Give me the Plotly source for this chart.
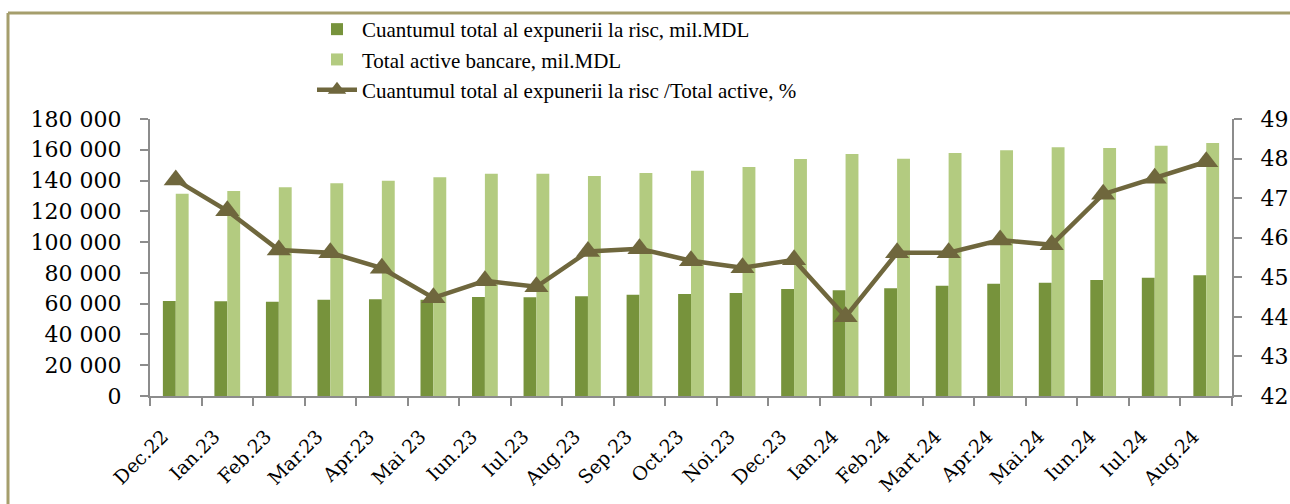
import plotly.graph_objects as go

categories = ["Dec.22", "Ian.23", "Feb.23", "Mar.23", "Apr.23", "Mai 23", "Iun.23", "Iul.23",
              "Aug.23", "Sep.23", "Oct.23", "Noi.23", "Dec.23", "Ian.24", "Feb.24", "Mart.24",
              "Apr.24", "Mai.24", "Iun.24", "Iul.24", "Aug.24"]
expunere = [61700, 61500, 61300, 62600, 62800, 62600, 64300, 64100, 64800, 65800, 66300,
            66900, 69500, 68700, 70000, 71700, 73000, 73600, 75400, 76900, 78400]
active = [131500, 133200, 135600, 138200, 139900, 142100, 144500, 144500, 143000, 144900, 146400,
          148800, 154000, 157300, 154200, 157900, 159700, 161600, 161200, 162600, 164400]
raport = [47.46, 46.68, 45.69, 45.62, 45.23, 44.48, 44.91, 44.76, 45.65, 45.72, 45.42,
          45.24, 45.44, 44.00, 45.62, 45.62, 45.94, 45.82, 47.10, 47.50, 47.92]
left_ticks = list(range(0, 180001, 20000))
left_labels = [f"{v:,}".replace(",", " ") for v in left_ticks]
right_ticks = list(range(42, 50))

name1 = "Cuantumul total al expunerii la risc, mil.MDL"
name2 = "Total active bancare, mil.MDL"
name3 = "Cuantumul total al expunerii la risc /Total active, %"

DARK = "#77933C"
LIGHT = "#B3CB80"
LINEC = "#6F673D"
AXC = "#8C8C8C"
BORDER = "#A59E6C"

W, H = 1290, 504
L, R, T, B = 150, 58, 119, 108
PW, PH = W - L - R, H - T - B

def px_x(p):
    return (p - L) / PW

def px_y(p):
    return (H - B - p) / PH

fig = go.Figure()
fig.add_trace(go.Bar(x=categories, y=expunere, name=name1, marker_color=DARK,
                     marker_line_width=0, yaxis="y"))
fig.add_trace(go.Bar(x=categories, y=active, name=name2, marker_color=LIGHT,
                     marker_line_width=0, yaxis="y"))
fig.add_trace(go.Scatter(x=categories, y=raport, name=name3, mode="lines+markers",
                         line=dict(color=LINEC, width=4.5),
                         marker=dict(symbol="triangle-up", size=21, color=LINEC),
                         yaxis="y2"))

tickfont = dict(family="DejaVu Serif", size=22, color="black")
n = len(categories)
boundaries = [i - 0.5 for i in range(n + 1)]

fig.update_layout(
    width=W, height=H,
    margin=dict(l=L, r=R, t=T, b=B, autoexpand=False),
    paper_bgcolor="white", plot_bgcolor="white",
    barmode="group", bargap=0.5, bargroupgap=0,
    showlegend=True,
    legend=dict(x=px_x(312), y=px_y(9), xanchor="left", yanchor="top",
                font=dict(family="Liberation Serif", size=21, color="black"),
                bgcolor="rgba(0,0,0,0)", tracegroupgap=0, itemwidth=40,
                traceorder="normal"),
    xaxis=dict(type="category", range=[-0.5, n - 0.5], tickson="boundaries",
               ticks="outside", ticklen=8, tickwidth=2, tickcolor=AXC,
               showline=True, linecolor=AXC, linewidth=2, showgrid=False,
               tickangle=-45, ticklabelstandoff=20, ticklabelshift=-13,
               tickfont=dict(family="DejaVu Serif", size=19, color="black")),
    xaxis2=dict(overlaying="x", anchor="y", range=[-0.5, n - 0.5], tickvals=boundaries,
                ticks="inside", ticklen=8, tickwidth=2, tickcolor=AXC,
                showticklabels=False, showline=False, showgrid=False, zeroline=False),
    yaxis=dict(range=[0, 180000], tickvals=left_ticks, ticktext=left_labels,
               ticks="outside", ticklen=8, tickwidth=2, tickcolor=AXC,
               showline=True, linecolor=AXC, linewidth=2, showgrid=False, zeroline=False,
               tickfont=tickfont, ticklabelstandoff=14),
    yaxis2=dict(range=[42, 49], tickvals=right_ticks, overlaying="y", side="right",
                ticks="outside", ticklen=8, tickwidth=2, tickcolor=AXC,
                showline=True, linecolor=AXC, linewidth=2, showgrid=False, zeroline=False,
                tickfont=tickfont, ticklabelstandoff=14),
    yaxis3=dict(range=[0, 180000], tickvals=left_ticks, overlaying="y", side="left",
                ticks="inside", ticklen=8, tickwidth=2, tickcolor=AXC,
                showticklabels=False, showline=False, showgrid=False, zeroline=False),
    yaxis4=dict(range=[42, 49], tickvals=right_ticks, overlaying="y", side="right",
                ticks="inside", ticklen=8, tickwidth=2, tickcolor=AXC,
                showticklabels=False, showline=False, showgrid=False, zeroline=False),
    shapes=[
        dict(type="line", xref="paper", yref="paper", x0=px_x(8), x1=px_x(1295),
             y0=px_y(13), y1=px_y(13), line=dict(color=BORDER, width=3)),
        dict(type="line", xref="paper", yref="paper", x0=px_x(8), x1=px_x(8),
             y0=px_y(13), y1=px_y(510), line=dict(color=BORDER, width=3)),
    ],
)

fig.write_html("out.html", config={"displayModeBar": False},
               post_script="document.body.style.margin='0';document.body.style.overflow='hidden';")
